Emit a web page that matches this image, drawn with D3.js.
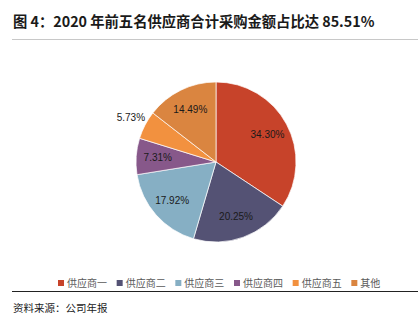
<!DOCTYPE html>
<html><head><meta charset="utf-8">
<script src="https://cdn.jsdelivr.net/npm/d3@7/dist/d3.min.js"></script>
<style>
body{margin:0;background:#fff;}
svg{display:block;}
</style></head>
<body><svg id="c" width="418" height="325"></svg>
<script>
const categories = ["供应商一","供应商二","供应商三","供应商四","供应商五","其他"];
const values = [34.30, 20.25, 17.92, 7.31, 5.73, 14.49];
const labels = ["34.30%","20.25%","17.92%","7.31%","5.73%","14.49%"];
const colors = ["#C7432A","#545274","#86AFC4","#87588A","#F2913F","#DA8540"];
const titleText = "图 4：2020 年前五名供应商合计采购金额占比达 85.51%";
const sourceText = "资料来源：公司年报";

const svg = d3.select("#c");
const cjk = "'Noto Sans CJK SC','Noto Sans',sans-serif";

svg.append("text").attr("x",13).attr("y",27)
  .attr("font-family",cjk).attr("font-weight","bold").attr("font-size",14.3)
  .attr("fill","#1a1a1a").text(titleText);
svg.append("line").attr("x1",12).attr("x2",418).attr("y1",39.5).attr("y2",39.5)
  .attr("stroke","#c8c8c8").attr("stroke-width",1);

const cx = 216, cy = 162, R = 80;
const pie = d3.pie().sort(null).value(d=>d)(values);
const arc = d3.arc().innerRadius(0).outerRadius(R);
const g = svg.append("g").attr("transform",`translate(${cx},${cy})`);
g.selectAll("path").data(pie).join("path")
  .attr("d",arc).attr("fill",(d,i)=>colors[i])
  .attr("stroke","#fff").attr("stroke-width",0.7);

const labelArc = d3.arc().innerRadius(R*0.73).outerRadius(R*0.73);
const outerArc = d3.arc().innerRadius(R*1.2).outerRadius(R*1.2);
g.selectAll("text").data(pie).join("text")
  .attr("transform",(d,i)=>{
    const p = (i===4 ? outerArc : labelArc).centroid(d);
    return `translate(${p[0]},${p[1]})`;
  })
  .attr("text-anchor","middle").attr("dy","0.35em")
  .attr("font-family","'Liberation Sans',Arial,sans-serif").attr("font-size",10)
  .attr("fill","#1a1a1a")
  .text((d,i)=>labels[i]);

// legend
const lx = d3.scaleLinear().domain([0,categories.length]).range([58,410]);
const lg = svg.append("g").selectAll("g").data(categories).join("g")
  .attr("transform",(d,i)=>`translate(${lx(i)},283)`);
lg.append("rect").attr("x",0).attr("y",-3).attr("width",6).attr("height",6)
  .attr("fill",(d,i)=>colors[i]);
lg.append("text").attr("x",9).attr("y",0).attr("dy","0.36em")
  .attr("font-family",cjk).attr("font-size",10).attr("fill","#595959")
  .text(d=>d);

svg.append("line").attr("x1",12).attr("x2",418).attr("y1",291.5).attr("y2",291.5)
  .attr("stroke","#222").attr("stroke-width",1);
svg.append("text").attr("x",13).attr("y",312)
  .attr("font-family",cjk).attr("font-size",10.5).attr("fill","#1a1a1a")
  .text(sourceText);
</script></body></html>
